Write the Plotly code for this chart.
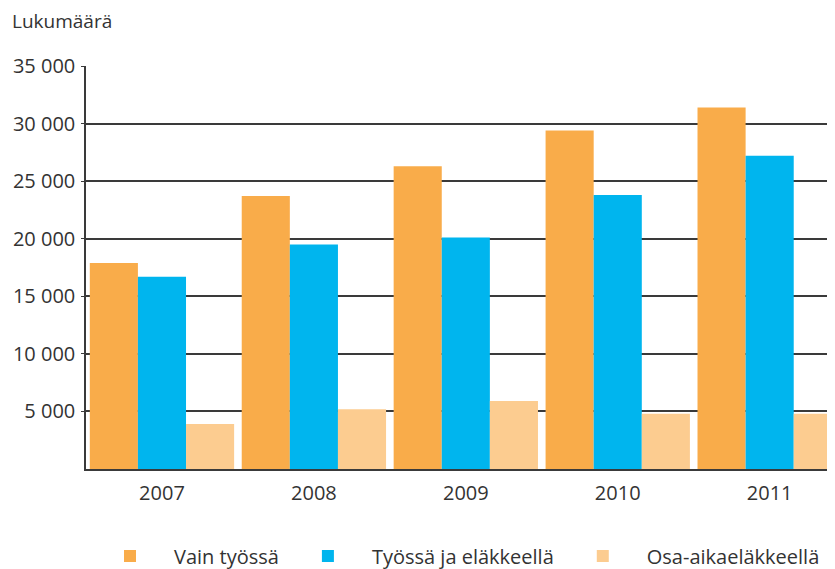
import plotly.graph_objects as go

years = ["2007", "2008", "2009", "2010", "2011"]
vain_tyossa = [17900, 23700, 26300, 29400, 31400]
tyossa_ja_elakkeella = [16700, 19500, 20100, 23800, 27200]
osa_aikaelakkeella = [3900, 5200, 5900, 4800, 4800]

tick_vals = [5000, 10000, 15000, 20000, 25000, 30000, 35000]
tick_text = ["5 000", "10 000", "15 000", "20 000", "25 000", "30 000", "35 000"]

series = [
    ("Vain työssä", vain_tyossa, "#F9AC4A"),
    ("Työssä ja eläkkeellä", tyossa_ja_elakkeella, "#00B5EE"),
    ("Osa-aikaeläkkeellä", osa_aikaelakkeella, "#FCCC90"),
]

fig = go.Figure()
for name, vals, col in series:
    fig.add_trace(go.Bar(x=years, y=vals, name=name, marker=dict(color=col, line=dict(width=0))))

font_family = "Open Sans"
W, H = 827, 561
L, T, B = 78, 58, 100
PW, PH = W - L, H - T - B

fig.update_layout(
    width=W, height=H,
    margin=dict(l=L, r=0, t=T, b=B, autoexpand=False),
    paper_bgcolor="white", plot_bgcolor="white",
    barmode="group", bargap=0.05, bargroupgap=0,
    font=dict(family=font_family, size=20, color="#333333"),
    showlegend=True,
    legend=dict(orientation="h", x=0.0, xanchor="left", y=-87 / PH, yanchor="middle",
                font=dict(size=20, color="#333333"), itemwidth=78,
                traceorder="normal"),
    xaxis=dict(type="category", range=[-0.5, 4.43], showgrid=False,
               showline=True, linecolor="#3a3a3a", linewidth=1.5,
               ticks="", tickfont=dict(size=20), ticklabelstandoff=5),
    yaxis=dict(range=[0, 35000], tickvals=tick_vals, ticktext=tick_text,
               showgrid=True, gridcolor="#3a3a3a", gridwidth=1.5,
               showline=True, linecolor="#3a3a3a", linewidth=1.5,
               ticks="outside", ticklen=3, tickcolor="#3a3a3a",
               ticklabelstandoff=2,
               zeroline=False, tickfont=dict(size=20)),
    annotations=[dict(text="Lukumäärä", xref="paper", yref="paper", x=(2 - L) / PW, y=1 + (T - 13) / PH,
                      xanchor="left", yanchor="middle", showarrow=False,
                      font=dict(size=19, color="#333333"))],
)

fig.write_html("out.html")
